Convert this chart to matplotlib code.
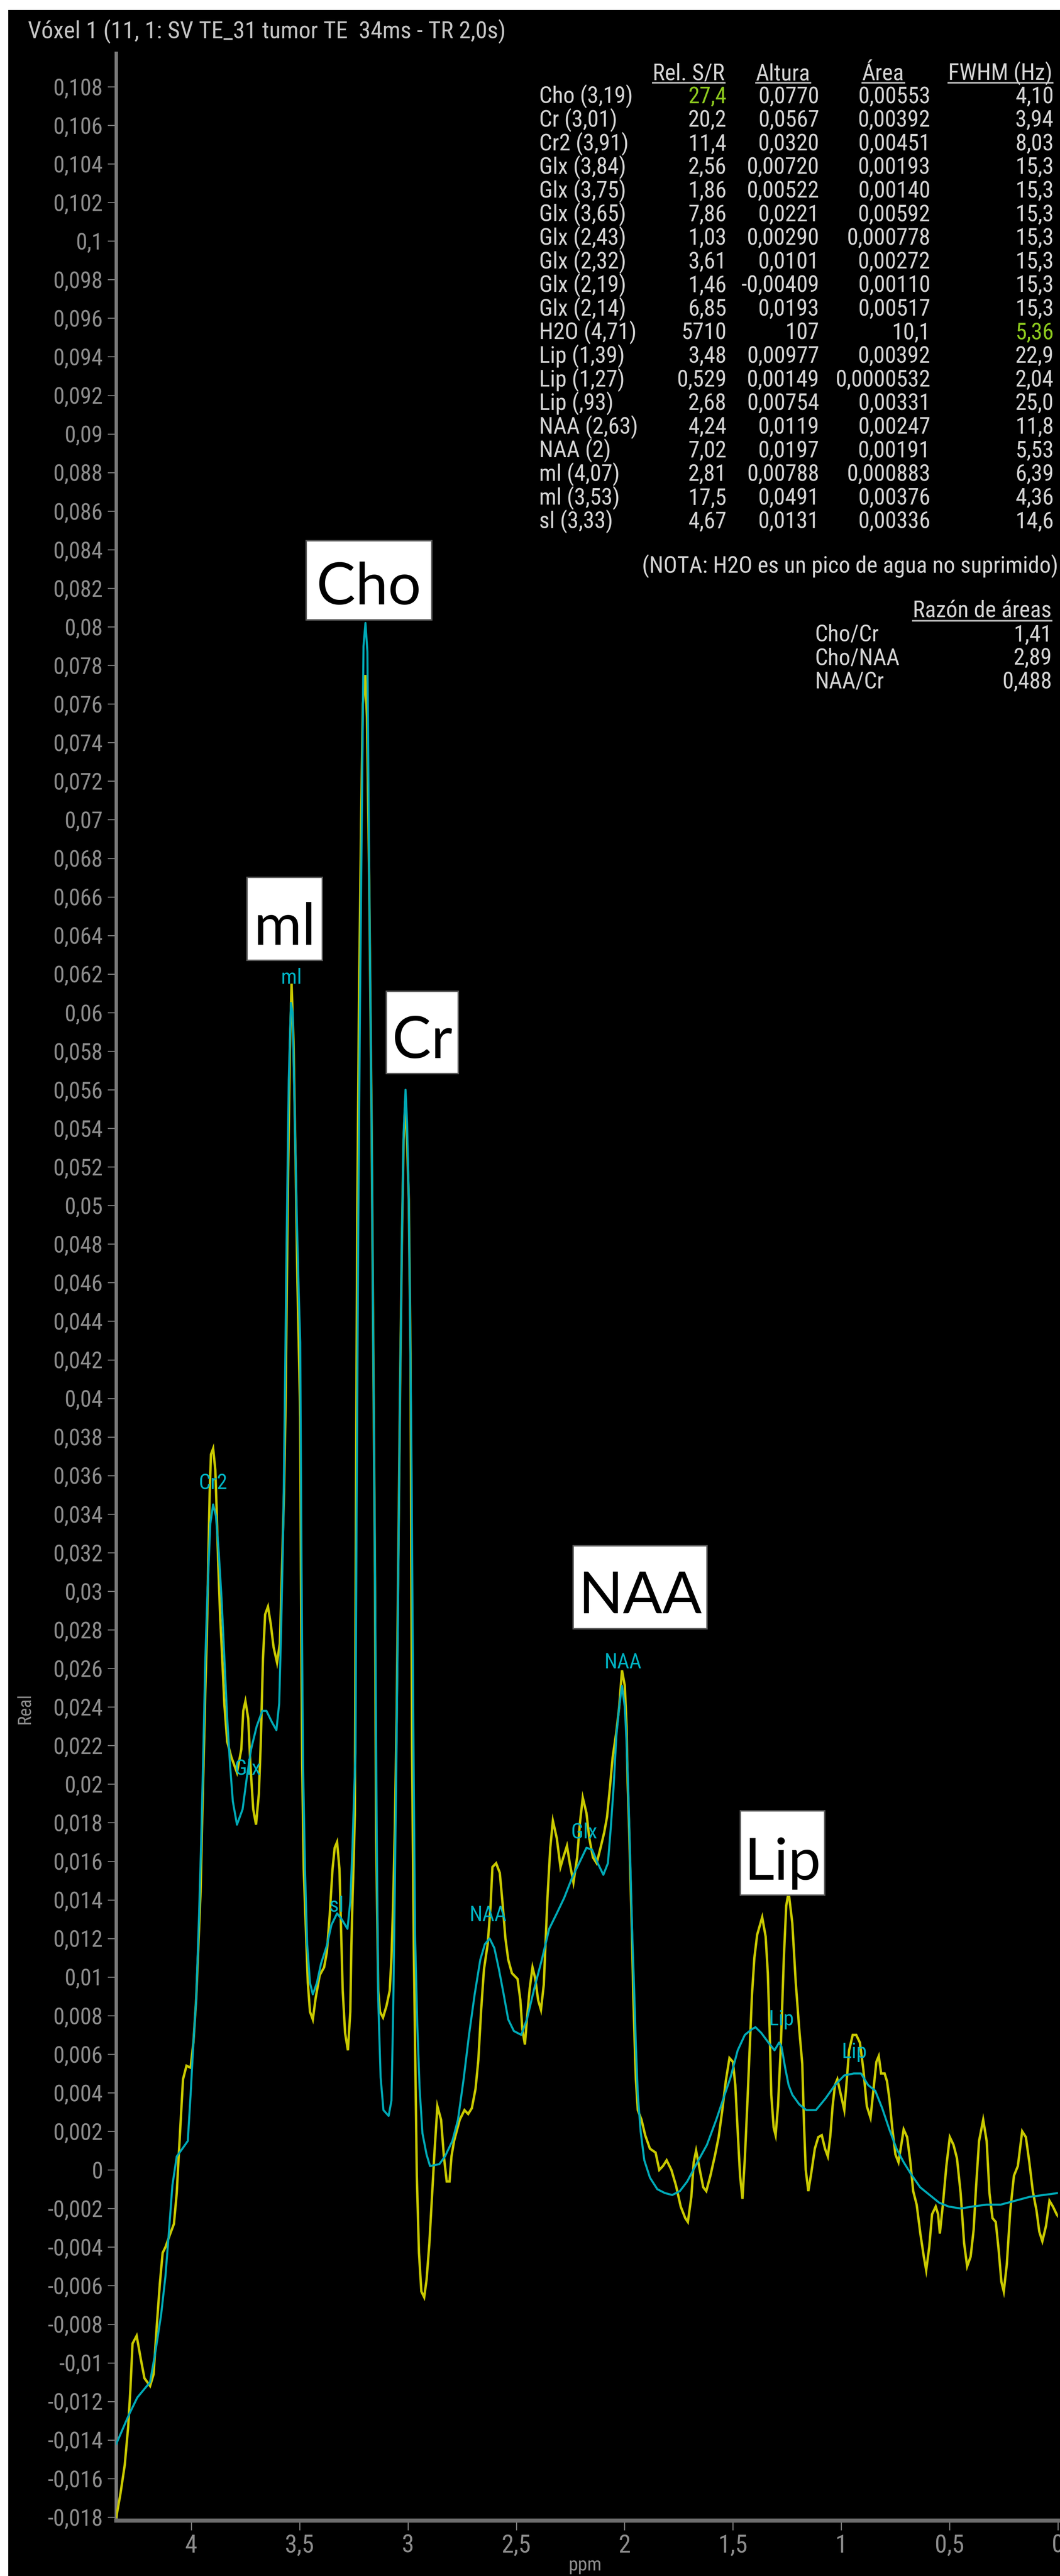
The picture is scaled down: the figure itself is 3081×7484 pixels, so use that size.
import numpy as np
import matplotlib
matplotlib.use('Agg')
import matplotlib.pyplot as plt
from matplotlib.patches import Rectangle
from matplotlib.lines import Line2D
from matplotlib.ticker import FixedLocator, FuncFormatter
from matplotlib import font_manager as fm

# ---------------- data ----------------
yellow_ppm = [4.346, 4.327, 4.307, 4.291, 4.281, 4.271, 4.252, 4.233, 4.216, 4.190, 4.174, 4.158, 4.145, 4.132,
              4.119, 4.100, 4.080, 4.067, 4.058, 4.048, 4.038, 4.022, 4.003, 3.990, 3.977, 3.967, 3.957, 3.951,
              3.944, 3.935, 3.928, 3.922, 3.915, 3.909, 3.899, 3.889, 3.883, 3.876, 3.867, 3.857, 3.847, 3.834,
              3.815, 3.789, 3.769, 3.760, 3.750, 3.737, 3.727, 3.714, 3.701, 3.688, 3.679, 3.669, 3.659, 3.646,
              3.633, 3.620, 3.604, 3.591, 3.581, 3.572, 3.565, 3.555, 3.545, 3.537, 3.528, 3.518, 3.510, 3.504,
              3.497, 3.494, 3.488, 3.481, 3.471, 3.462, 3.452, 3.439, 3.426, 3.407, 3.387, 3.374, 3.361, 3.348,
              3.338, 3.327, 3.316, 3.308, 3.301, 3.290, 3.277, 3.266, 3.261, 3.256, 3.250, 3.245, 3.240, 3.234,
              3.226, 3.216, 3.208, 3.197, 3.189, 3.179, 3.168, 3.160, 3.152, 3.147, 3.137, 3.129, 3.115, 3.099,
              3.084, 3.076, 3.068, 3.060, 3.052, 3.044, 3.036, 3.028, 3.020, 3.012, 3.004, 2.996, 2.988, 2.981,
              2.973, 2.967, 2.959, 2.949, 2.938, 2.925, 2.914, 2.901, 2.890, 2.877, 2.864, 2.847, 2.834, 2.821,
              2.808, 2.799, 2.787, 2.761, 2.739, 2.722, 2.705, 2.688, 2.675, 2.662, 2.649, 2.632, 2.619, 2.610,
              2.593, 2.576, 2.563, 2.550, 2.537, 2.520, 2.494, 2.481, 2.472, 2.460, 2.451, 2.438, 2.425, 2.412,
              2.399, 2.386, 2.373, 2.365, 2.356, 2.343, 2.331, 2.313, 2.296, 2.283, 2.266, 2.253, 2.236, 2.219,
              2.206, 2.193, 2.176, 2.163, 2.146, 2.129, 2.111, 2.094, 2.081, 2.068, 2.055, 2.038, 2.025, 2.012,
              1.999, 1.991, 1.986, 1.979, 1.973, 1.966, 1.960, 1.954, 1.948, 1.939, 1.922, 1.905, 1.883, 1.857,
              1.840, 1.823, 1.806, 1.784, 1.763, 1.741, 1.720, 1.708, 1.692, 1.681, 1.670, 1.653, 1.637, 1.623,
              1.604, 1.582, 1.566, 1.549, 1.533, 1.516, 1.500, 1.489, 1.478, 1.467, 1.456, 1.445, 1.434, 1.423,
              1.412, 1.401, 1.388, 1.365, 1.349, 1.339, 1.330, 1.323, 1.312, 1.303, 1.292, 1.279, 1.265, 1.254,
              1.243, 1.226, 1.210, 1.194, 1.180, 1.172, 1.164, 1.152, 1.139, 1.122, 1.106, 1.090, 1.075, 1.062,
              1.051, 1.040, 1.029, 1.018, 1.002, 0.986, 0.975, 0.964, 0.947, 0.931, 0.914, 0.898, 0.882, 0.865,
              0.852, 0.838, 0.827, 0.816, 0.800, 0.789, 0.778, 0.765, 0.750, 0.736, 0.723, 0.712, 0.696, 0.681,
              0.668, 0.652, 0.635, 0.619, 0.608, 0.594, 0.581, 0.564, 0.553, 0.545, 0.531, 0.515, 0.499, 0.482,
              0.466, 0.449, 0.433, 0.419, 0.403, 0.389, 0.378, 0.364, 0.345, 0.329, 0.316, 0.302, 0.287, 0.274,
              0.261, 0.250, 0.236, 0.220, 0.203, 0.185, 0.165, 0.148, 0.132, 0.116, 0.099, 0.086, 0.072, 0.055,
              0.039, 0.023, 0.006, 0.000]
yellow_val = [-0.0180, -0.0168, -0.0153, -0.0133, -0.0114, -0.0090, -0.0086, -0.0098, -0.0108, -0.0112, -0.0106,
              -0.0079, -0.0059, -0.0043, -0.0040, -0.0034, -0.0028, -0.0012, 0.0007, 0.0027, 0.0047, 0.0054,
              0.0053, 0.0066, 0.0089, 0.0117, 0.0144, 0.0175, 0.0207, 0.0249, 0.0277, 0.0312, 0.0351, 0.0371,
              0.0374, 0.0363, 0.0343, 0.0316, 0.0288, 0.0265, 0.0241, 0.0222, 0.0214, 0.0206, 0.0218, 0.0238,
              0.0243, 0.0234, 0.0210, 0.0187, 0.0179, 0.0195, 0.0222, 0.0265, 0.0288, 0.0292, 0.0283, 0.0271,
              0.0263, 0.0273, 0.0312, 0.0351, 0.0394, 0.0500, 0.0580, 0.0615, 0.0585, 0.0520, 0.0460, 0.0429,
              0.0390, 0.0312, 0.0210, 0.0156, 0.0125, 0.0097, 0.0082, 0.0078, 0.0089, 0.0101, 0.0105, 0.0113,
              0.0132, 0.0156, 0.0167, 0.0170, 0.0156, 0.0122, 0.0093, 0.0071, 0.0062, 0.0082, 0.0116, 0.0139,
              0.0162, 0.0184, 0.0338, 0.0492, 0.0605, 0.0699, 0.0760, 0.0775, 0.0753, 0.0671, 0.0548, 0.0429,
              0.0307, 0.0176, 0.0093, 0.0082, 0.0079, 0.0085, 0.0093, 0.0110, 0.0139, 0.0179, 0.0235, 0.0321,
              0.0406, 0.0480, 0.0534, 0.0554, 0.0534, 0.0503, 0.0423, 0.0218, 0.0116, 0.0065, -0.0003, -0.0043,
              -0.0063, -0.0066, -0.0057, -0.0038, -0.0016, 0.0010, 0.0033, 0.0026, 0.0007, -0.0006, -0.0006,
              0.0007, 0.0015, 0.0026, 0.0031, 0.0029, 0.0032, 0.0042, 0.0057, 0.0083, 0.0104, 0.0117, 0.0136,
              0.0157, 0.0159, 0.0154, 0.0138, 0.0120, 0.0109, 0.0102, 0.0099, 0.0088, 0.0073, 0.0065, 0.0078,
              0.0094, 0.0105, 0.0099, 0.0088, 0.0083, 0.0096, 0.0117, 0.0141, 0.0167, 0.0181, 0.0172, 0.0157,
              0.0162, 0.0168, 0.0159, 0.0149, 0.0162, 0.0180, 0.0193, 0.0185, 0.0172, 0.0162, 0.0159, 0.0167,
              0.0175, 0.0183, 0.0198, 0.0214, 0.0227, 0.0240, 0.0259, 0.0251, 0.0230, 0.0201, 0.0177, 0.0151,
              0.0123, 0.0091, 0.0068, 0.0047, 0.0031, 0.0026, 0.0018, 0.0011, 0.0009, 0.0000, 0.0002, 0.0005,
              0.0000, -0.0008, -0.0019, -0.0025, -0.0027, -0.0014, 0.0004, 0.0010, 0.0000, -0.0009, -0.0011,
              -0.0003, 0.0008, 0.0017, 0.0031, 0.0046, 0.0058, 0.0056, 0.0044, 0.0020, -0.0003, -0.0015, 0.0006,
              0.0033, 0.0062, 0.0091, 0.0110, 0.0122, 0.0131, 0.0121, 0.0102, 0.0070, 0.0039, 0.0022, 0.0018,
              0.0033, 0.0064, 0.0110, 0.0137, 0.0144, 0.0128, 0.0097, 0.0073, 0.0055, 0.0024, 0.0000, -0.0011,
              -0.0002, 0.0011, 0.0017, 0.0018, 0.0011, 0.0007, 0.0017, 0.0033, 0.0044, 0.0047, 0.0039, 0.0031,
              0.0046, 0.0062, 0.0070, 0.0070, 0.0066, 0.0052, 0.0033, 0.0027, 0.0041, 0.0056, 0.0059, 0.0050,
              0.0050, 0.0046, 0.0037, 0.0022, 0.0008, 0.0004, 0.0013, 0.0021, 0.0017, 0.0004, -0.0011, -0.0018,
              -0.0033, -0.0045, -0.0052, -0.0040, -0.0023, -0.0019, -0.0023, -0.0033, -0.0018, 0.0002, 0.0017,
              0.0013, 0.0006, -0.0012, -0.0038, -0.0050, -0.0045, -0.0031, -0.0009, 0.0015, 0.0026, 0.0015,
              -0.0012, -0.0025, -0.0027, -0.0041, -0.0058, -0.0063, -0.0049, -0.0021, -0.0003, 0.0002, 0.0020,
              0.0017, 0.0004, -0.0011, -0.0021, -0.0032, -0.0037, -0.0029, -0.0016, -0.0019, -0.0023, -0.0024]

cyan_ppm = [4.346, 4.288, 4.249, 4.190, 4.165, 4.139, 4.119, 4.103, 4.087, 4.067, 4.041, 4.016, 4.003, 3.990,
            3.977, 3.964, 3.954, 3.944, 3.935, 3.925, 3.912, 3.899, 3.886, 3.873, 3.860, 3.847, 3.834, 3.821,
            3.808, 3.789, 3.763, 3.744, 3.724, 3.698, 3.672, 3.653, 3.627, 3.607, 3.594, 3.585, 3.575, 3.569,
            3.560, 3.550, 3.540, 3.532, 3.522, 3.512, 3.504, 3.497, 3.491, 3.484, 3.475, 3.465, 3.452, 3.439,
            3.420, 3.401, 3.375, 3.353, 3.327, 3.306, 3.279, 3.266, 3.256, 3.248, 3.242, 3.237, 3.229, 3.221,
            3.213, 3.205, 3.196, 3.187, 3.179, 3.168, 3.160, 3.152, 3.144, 3.137, 3.126, 3.113, 3.089, 3.076,
            3.068, 3.060, 3.052, 3.044, 3.036, 3.028, 3.020, 3.011, 3.004, 2.996, 2.991, 2.983, 2.975, 2.967,
            2.957, 2.946, 2.933, 2.914, 2.898, 2.855, 2.829, 2.795, 2.769, 2.743, 2.718, 2.692, 2.666, 2.645,
            2.623, 2.601, 2.580, 2.558, 2.537, 2.511, 2.477, 2.451, 2.417, 2.382, 2.348, 2.313, 2.279, 2.244,
            2.210, 2.176, 2.150, 2.124, 2.098, 2.077, 2.064, 2.051, 2.038, 2.025, 2.012, 1.999, 1.991, 1.982,
            1.973, 1.965, 1.956, 1.948, 1.939, 1.926, 1.909, 1.883, 1.849, 1.814, 1.780, 1.745, 1.711, 1.664,
            1.620, 1.577, 1.544, 1.511, 1.478, 1.445, 1.412, 1.396, 1.369, 1.336, 1.308, 1.287, 1.276, 1.259,
            1.243, 1.226, 1.194, 1.161, 1.117, 1.073, 1.029, 0.986, 0.942, 0.909, 0.876, 0.843, 0.811, 0.778,
            0.745, 0.712, 0.679, 0.636, 0.592, 0.548, 0.504, 0.449, 0.395, 0.329, 0.264, 0.198, 0.132, 0.066,
            0.000]
cyan_val = [-0.0142, -0.0127, -0.0118, -0.0110, -0.0094, -0.0075, -0.0055, -0.0032, -0.0008, 0.0007, 0.0011,
            0.0015, 0.0039, 0.0066, 0.0089, 0.0132, 0.0171, 0.0218, 0.0265, 0.0300, 0.0335, 0.0345, 0.0339,
            0.0320, 0.0296, 0.0265, 0.0234, 0.0210, 0.0191, 0.0179, 0.0187, 0.0203, 0.0218, 0.0230, 0.0238,
            0.0238, 0.0232, 0.0228, 0.0242, 0.0281, 0.0335, 0.0390, 0.0480, 0.0565, 0.0605, 0.0600, 0.0545,
            0.0490, 0.0455, 0.0429, 0.0312, 0.0210, 0.0156, 0.0117, 0.0097, 0.0091, 0.0097, 0.0107, 0.0116,
            0.0127, 0.0133, 0.0130, 0.0125, 0.0139, 0.0167, 0.0196, 0.0216, 0.0338, 0.0492, 0.0605, 0.0699,
            0.0790, 0.0802, 0.0787, 0.0674, 0.0548, 0.0429, 0.0310, 0.0176, 0.0088, 0.0048, 0.0031, 0.0028,
            0.0036, 0.0082, 0.0150, 0.0224, 0.0315, 0.0406, 0.0480, 0.0537, 0.0560, 0.0543, 0.0503, 0.0452,
            0.0361, 0.0230, 0.0122, 0.0076, 0.0042, 0.0019, 0.0008, 0.0002, 0.0003, 0.0007, 0.0015, 0.0026,
            0.0047, 0.0070, 0.0091, 0.0109, 0.0117, 0.0120, 0.0115, 0.0104, 0.0091, 0.0078, 0.0072, 0.0070,
            0.0078, 0.0094, 0.0109, 0.0125, 0.0133, 0.0141, 0.0151, 0.0159, 0.0167, 0.0166, 0.0159, 0.0153,
            0.0159, 0.0177, 0.0198, 0.0225, 0.0240, 0.0251, 0.0240, 0.0222, 0.0193, 0.0157, 0.0123, 0.0094,
            0.0065, 0.0039, 0.0020, 0.0005, -0.0004, -0.0010, -0.0012, -0.0013, -0.0011, -0.0006, 0.0004,
            0.0013, 0.0026, 0.0037, 0.0048, 0.0062, 0.0070, 0.0073, 0.0074, 0.0071, 0.0066, 0.0062, 0.0066,
            0.0064, 0.0053, 0.0044, 0.0039, 0.0034, 0.0031, 0.0031, 0.0037, 0.0044, 0.0049, 0.0050, 0.0050,
            0.0044, 0.0041, 0.0032, 0.0021, 0.0011, 0.0004, -0.0002, -0.0009, -0.0013, -0.0017, -0.0019,
            -0.0020, -0.0019, -0.0018, -0.0018, -0.0016, -0.0014, -0.0013, -0.0012]

# small fitted-peak labels on the spectrum
peak_label_text = ["Cr2", "Glx", "ml", "sl", "NAA", "Glx", "NAA", "Lip", "Lip"]
peak_label_ppm = [3.90, 3.74, 3.537, 3.33, 2.63, 2.187, 2.008, 1.276, 0.94]
peak_label_val = [0.0356, 0.0208, 0.0618, 0.0137, 0.0132, 0.0175, 0.0263, 0.0078, 0.0061]

# big boxed annotations: text, ppm_left, ppm_right, val_bottom, val_top
box_text = ["Cho", "ml", "Cr", "NAA", "Lip"]
box_ppm_left = [3.470, 3.743, 3.100, 2.238, 1.465]
box_ppm_right = [2.890, 3.395, 2.767, 1.619, 1.076]
box_val_bottom = [0.08036, 0.06271, 0.05684, 0.02806, 0.01425]
box_val_top = [0.08446, 0.06701, 0.06111, 0.03236, 0.01862]

# results table
table_headers = ["Rel. S/R", "Altura", "Área", "FWHM (Hz)"]
row_names = ["Cho (3,19)", "Cr (3,01)", "Cr2 (3,91)", "Glx (3,84)", "Glx (3,75)", "Glx (3,65)", "Glx (2,43)",
             "Glx (2,32)", "Glx (2,19)", "Glx (2,14)", "H2O (4,71)", "Lip (1,39)", "Lip (1,27)", "Lip (,93)",
             "NAA (2,63)", "NAA (2)", "ml (4,07)", "ml (3,53)", "sl (3,33)"]
rel_sr = ["27,4", "20,2", "11,4", "2,56", "1,86", "7,86", "1,03", "3,61", "1,46", "6,85", "5710", "3,48",
          "0,529", "2,68", "4,24", "7,02", "2,81", "17,5", "4,67"]
altura = ["0,0770", "0,0567", "0,0320", "0,00720", "0,00522", "0,0221", "0,00290", "0,0101", "-0,00409",
          "0,0193", "107", "0,00977", "0,00149", "0,00754", "0,0119", "0,0197", "0,00788", "0,0491", "0,0131"]
area = ["0,00553", "0,00392", "0,00451", "0,00193", "0,00140", "0,00592", "0,000778", "0,00272", "0,00110",
        "0,00517", "10,1", "0,00392", "0,0000532", "0,00331", "0,00247", "0,00191", "0,000883", "0,00376",
        "0,00336"]
fwhm = ["4,10", "3,94", "8,03", "15,3", "15,3", "15,3", "15,3", "15,3", "15,3", "15,3", "5,36", "22,9",
        "2,04", "25,0", "11,8", "5,53", "6,39", "4,36", "14,6"]
green_cells = [(0, 0), (10, 3)]

ratio_names = ["Cho/Cr", "Cho/NAA", "NAA/Cr"]
ratio_values = ["1,41", "2,89", "0,488"]

x_ticks = [4, 3.5, 3, 2.5, 2, 1.5, 1, 0.5, 0]
x_tick_labels = ["4", "3,5", "3", "2,5", "2", "1,5", "1", "0,5", "0"]

title = "Vóxel 1 (11, 1: SV TE_31 tumor TE  34ms - TR 2,0s)"

# ---------------- fonts ----------------
def pick(cands):
    for c in cands:
        try:
            fm.findfont(fm.FontProperties(family=c), fallback_to_default=False)
            return c
        except Exception:
            pass
    return 'DejaVu Sans'

NARROW = pick(['Liberation Sans Narrow', 'DejaVu Sans Condensed', 'Roboto Condensed', 'Liberation Sans'])
BIG = pick(['Lato', 'Open Sans', 'DejaVu Sans'])
plt.rcParams['font.family'] = [NARROW, 'DejaVu Sans']

# ---------------- figure ----------------
W, H = 3081, 7484
DPI = 100


def fx(x):
    return x / W


def fy(y):
    return 1 - y / H


fig = plt.figure(figsize=(W / DPI, H / DPI), dpi=DPI, facecolor='white')
fig.add_artist(Rectangle((fx(24), 0), 1 - fx(24), fy(29), transform=fig.transFigure,
                         facecolor='black', edgecolor='none', zorder=-10))

ax = fig.add_axes([fx(338), fy(7323), fx(3075) - fx(338), fy(155) - fy(7323)])
ax.set_facecolor('black')
ax.set_xlim(4.346, 0.0)
ax.set_ylim(-0.01818, 0.10973)

ax.plot(yellow_ppm, yellow_val, color='#c9c900', lw=5.0, zorder=3, solid_joinstyle='miter')
ax.plot(cyan_ppm, cyan_val, color='#00a9b6', lw=4.3, zorder=4)

for t, p, v in zip(peak_label_text, peak_label_ppm, peak_label_val):
    ax.text(p, v, t, color='#00b2c2', fontsize=44, ha='center', va='center', zorder=6, family=[NARROW])

for t, pl, pr, vb, vt in zip(box_text, box_ppm_left, box_ppm_right, box_val_bottom, box_val_top):
    ax.add_patch(Rectangle((pr, vb), pl - pr, vt - vb, facecolor='white', edgecolor='#5a5a5a',
                           lw=3.0, zorder=8, clip_on=False))
    ax.text((pl + pr) / 2, vb + 0.0008, t, color='black', fontsize=122, family=[BIG],
            ha='center', va='baseline', zorder=9)

# axes styling
for s in ['top', 'right']:
    ax.spines[s].set_visible(False)
ax.spines['left'].set_color('#7a7a7a')
ax.spines['left'].set_linewidth(7)
ax.spines['bottom'].set_color('#6e6e6e')
ax.spines['bottom'].set_linewidth(8.5)

ax.xaxis.set_major_locator(FixedLocator(x_ticks))
ax.set_xticklabels(x_tick_labels)
yt = np.round(np.arange(-0.018, 0.1081, 0.002), 3)
ax.yaxis.set_major_locator(FixedLocator(yt))


def yfmt(v, pos):
    v = round(v, 3)
    if abs(v) < 1e-9:
        return "0"
    return f"{v:g}".replace('.', ',')


ax.yaxis.set_major_formatter(FuncFormatter(yfmt))
ax.tick_params(axis='y', colors='#7c7c7c', labelcolor='#8c8c8c', length=18, width=2.2, pad=10,
               labelsize=48)
ax.tick_params(axis='x', colors='#7c7c7c', labelcolor='#8c8c8c', length=20, width=2.2, pad=8,
               labelsize=52)

fig.text(fx(1701), fy(7468), "ppm", color='#8c8c8c', fontsize=40, ha='center', va='baseline')
fig.text(fx(72), fy(4964), "Real", color='#8c8c8c', fontsize=38, ha='center', va='center', rotation=90)

# title
fig.text(fx(81), fy(110), title, color='#c4c4c4', fontsize=50, ha='left', va='baseline')

# ---------------- tables ----------------
TXT = '#d4d4d4'
GREEN = '#8cc81e'
FS = 48
hdr_left = [1897, 2197, 2506, 2756]
hdr_objs = []
for h, xl in zip(table_headers, hdr_left):
    hdr_objs.append(fig.text(fx(xl), fy(233), h, color=TXT, fontsize=FS, ha='left', va='baseline'))

col_right = [2112, 2381, 2704, 3063]
cols = [rel_sr, altura, area, fwhm]
for i, name in enumerate(row_names):
    yb = 300 + 68.6 * i
    fig.text(fx(1567), fy(yb), name, color=TXT, fontsize=FS, ha='left', va='baseline')
    for j, col in enumerate(cols):
        c = GREEN if (i, j) in green_cells else TXT
        fig.text(fx(col_right[j]), fy(yb), col[i], color=c, fontsize=FS, ha='right', va='baseline')

fig.text(fx(1866), fy(1665), "(NOTA: H2O es un pico de agua no suprimido)", color=TXT, fontsize=FS,
         ha='left', va='baseline')

ratio_hdr = fig.text(fx(3056), fy(1793), "Razón de áreas", color=TXT, fontsize=FS, ha='right', va='baseline')
for k, (n, v) in enumerate(zip(ratio_names, ratio_values)):
    yb = 1863 + 68.5 * k
    fig.text(fx(2369), fy(yb), n, color=TXT, fontsize=FS, ha='left', va='baseline')
    fig.text(fx(3058), fy(yb), v, color=TXT, fontsize=FS, ha='right', va='baseline')

# underlines below headers
fig.canvas.draw()
r = fig.canvas.get_renderer()
for t, yl in [(o, 240) for o in hdr_objs] + [(ratio_hdr, 1803)]:
    bb = t.get_window_extent(renderer=r)
    fig.add_artist(Line2D([bb.x0 / W, bb.x1 / W], [fy(yl), fy(yl)], transform=fig.transFigure,
                          color='#b8b8b8', lw=3.5))

fig.savefig('out.png', dpi=DPI, facecolor='white')
print(NARROW, BIG)
